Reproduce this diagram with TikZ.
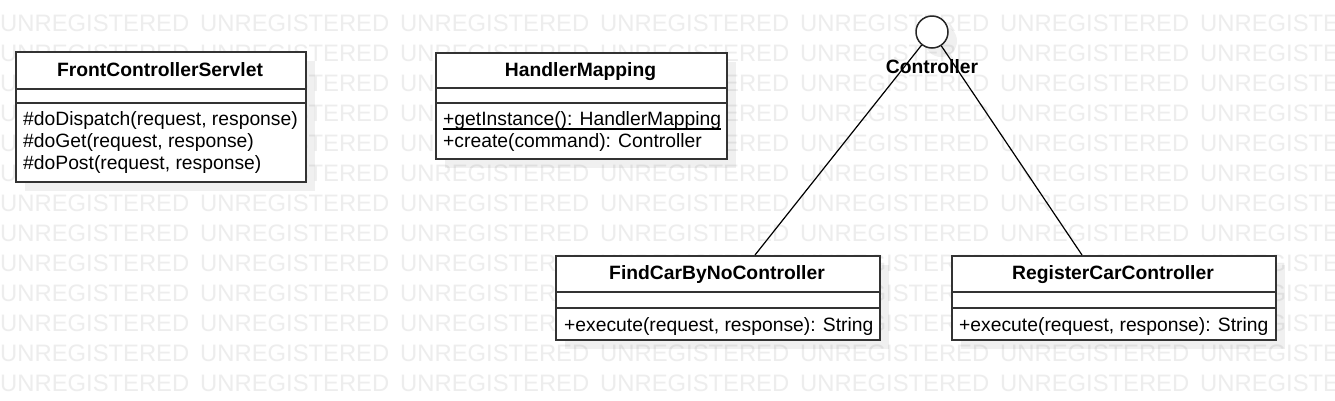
\documentclass[tikz,border=0pt]{standalone}
\usepackage{fontspec}
\setmainfont{Liberation Sans}
\begin{document}
\begin{tikzpicture}[x=1pt,y=-1pt,
  box/.style={draw=black!80, line width=1.5pt, fill=white, inner sep=0pt, anchor=north west},
  shadowbox/.style={fill=black, fill opacity=0.06, draw=none},
  sep/.style={draw=black!80, line width=1.3pt},
  txt/.style={anchor=base west, inner sep=0pt, font=\fontsize{19.3}{22}\selectfont},
  title/.style={anchor=base, inner sep=0pt, font=\fontsize{19.3}{22}\selectfont\bfseries},
  wm/.style={anchor=base west, inner sep=0pt, text=black!7, font=\fontsize{23.8}{28}\selectfont},
  link/.style={draw=black, line width=1.2pt}]
\useasboundingbox (0,0) rectangle (1335,400);
\fill[white] (0,0) rectangle (1335,400);
% watermark
\foreach \r in {0,...,12} {
  \foreach \c in {0,...,6} {
    \node[wm] (wm-\r-\c) at (200*\c, 31.7+30*\r) {UNREGISTERED};
  }
}
% shadows
\fill[shadowbox] (25,61) rectangle (315,191);
\fill[shadowbox] (445,62) rectangle (736,168);
\fill[shadowbox] (565,265) rectangle (889,349);
\fill[shadowbox] (961,265) rectangle (1285,349);
\fill[shadowbox] (941,41) circle (16);

% FrontControllerServlet
\node[box, minimum width=290pt, minimum height=130pt] (fcs) at (15,51) {};
\draw[sep] ([yshift=-38pt]fcs.north west) -- ([yshift=-38pt]fcs.north east);
\draw[sep] ([yshift=-52pt]fcs.north west) -- ([yshift=-52pt]fcs.north east);
\node[title] (fcs-t) at (160,76.5) {FrontControllerServlet};
\node[txt] (fcs-m1) at (23,125) {\#doDispatch(request, response)};
\node[txt] (fcs-m2) at (23,147) {\#doGet(request, response)};
\node[txt] (fcs-m3) at (23,169) {\#doPost(request, response)};

% HandlerMapping
\node[box, minimum width=291pt, minimum height=106pt] (hm) at (435,52) {};
\draw[sep] ([yshift=-36pt]hm.north west) -- ([yshift=-36pt]hm.north east);
\draw[sep] ([yshift=-51pt]hm.north west) -- ([yshift=-51pt]hm.north east);
\node[title] (hm-t) at (580.5,76) {HandlerMapping};
\node[txt] (hm-m1) at (443,125) {+getInstance(): HandlerMapping};
\draw[line width=1.2pt] ([yshift=-4pt]hm-m1.base west) -- ([yshift=-4pt]hm-m1.base east);
\node[txt] (hm-m2) at (443,147) {+create(command): Controller};

% FindCarByNoController
\node[box, minimum width=324pt, minimum height=84pt] (find) at (555,255) {};
\draw[sep] ([yshift=-37pt]find.north west) -- ([yshift=-37pt]find.north east);
\draw[sep] ([yshift=-53pt]find.north west) -- ([yshift=-53pt]find.north east);
\node[title] (find-t) at (717,279.5) {FindCarByNoController};
\node[txt] (find-m1) at (564,331) {+execute(request, response): String};

% RegisterCarController
\node[box, minimum width=324pt, minimum height=84pt] (reg) at (951,255) {};
\draw[sep] ([yshift=-37pt]reg.north west) -- ([yshift=-37pt]reg.north east);
\draw[sep] ([yshift=-53pt]reg.north west) -- ([yshift=-53pt]reg.north east);
\node[title] (reg-t) at (1113,279.5) {RegisterCarController};
\node[txt] (reg-m1) at (959,331) {+execute(request, response): String};

% Controller interface (lollipop)
\node[circle, draw=black!85, line width=1.5pt, fill=white, minimum size=32pt, inner sep=0pt] (ctrl) at (932,32) {};
\node[title] (ctrl-l) at (932,73.3) {Controller};
\coordinate (findtop) at (755,255);
\coordinate (regtop) at (1082,255);
\draw[link] (ctrl) -- (findtop);
\draw[link] (ctrl) -- (regtop);
\end{tikzpicture}
\end{document}
